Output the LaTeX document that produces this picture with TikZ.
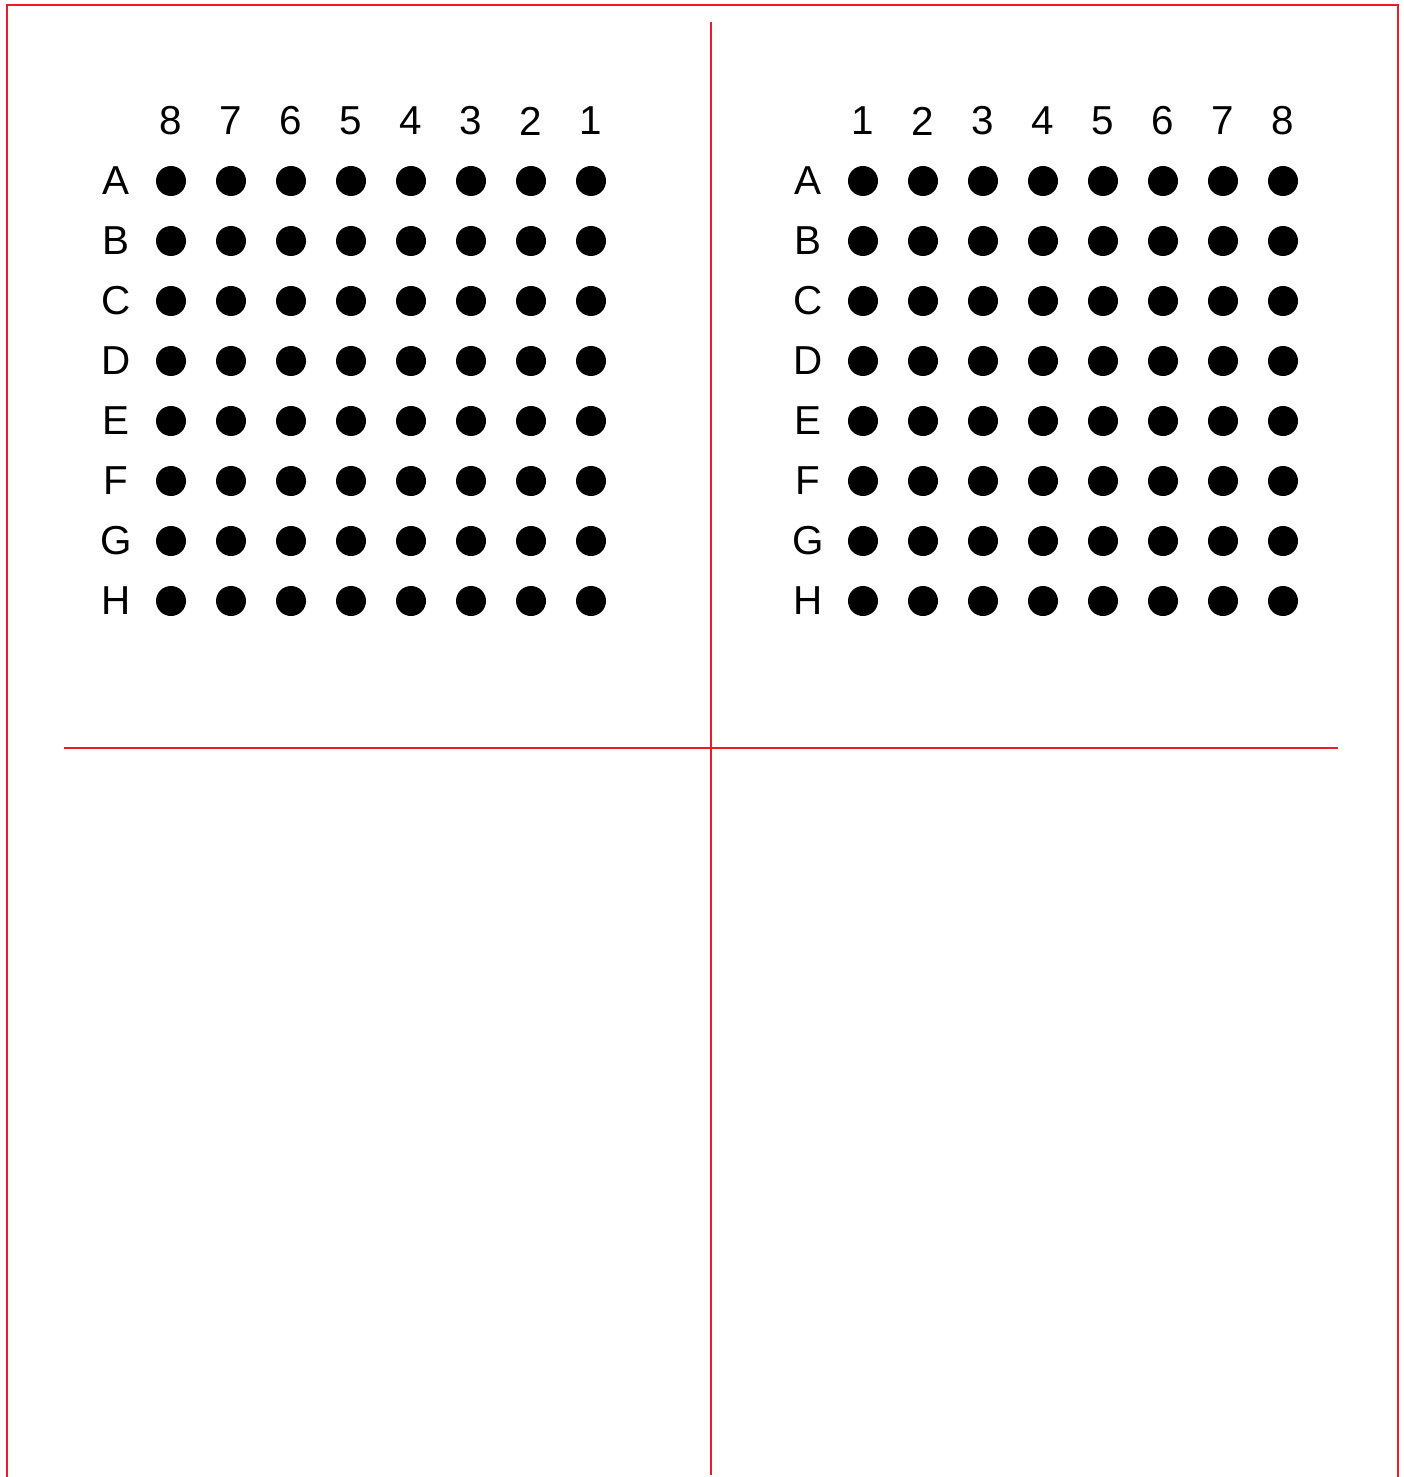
\documentclass[tikz,border=0pt]{standalone}
\usepackage{fontspec}
\setmainfont{Liberation Sans}
\usetikzlibrary{positioning}
\definecolor{panred}{RGB}{237,28,36}

\begin{document}
\begin{tikzpicture}[x=.02cm,y=-.02cm,font=\fontsize{23}{28}\selectfont,
        ball/.style={circle,fill=black,inner sep=0pt,minimum size=.6cm},
        divider/.style={draw=panred,line width=1.4pt}]
        \useasboundingbox (0,0) rectangle (1403,1477);

        % Frame and quadrant dividers.
        \draw[divider] (7,1477)--(7,5)--(1398,5)--(1398,1477);
        \coordinate (vtop) at (711,22);
        \coordinate (vbot) at (711,1475);
        \coordinate (hleft) at (64,748);
        \coordinate (hright) at (1338,748);
        \draw[divider] (vtop)--(vbot);
        \draw[divider] (hleft)--(hright);

        % Left grid: columns numbered 8 down to 1.
        \foreach \c [count=\i from 0] in {8,7,6,5,4,3,2,1} {
          \node (Lcol\c) at (171+60*\i,121) {\c};
          \foreach \r [count=\j from 0] in {A,B,C,D,E,F,G,H}
            \node[ball] (L\r\c) at (171+60*\i,181+60*\j) {};
        }
        \foreach \r [count=\j from 0] in {A,B,C,D,E,F,G,H}
          \node (Lrow\r) at (116,181+60*\j) {\r};

        % Right grid: columns numbered 1 up to 8.
        \foreach \c [count=\i from 0] in {1,2,3,4,5,6,7,8} {
          \node (Rcol\c) at (863+60*\i,121) {\c};
          \foreach \r [count=\j from 0] in {A,B,C,D,E,F,G,H}
            \node[ball] (R\r\c) at (863+60*\i,181+60*\j) {};
        }
        \foreach \r [count=\j from 0] in {A,B,C,D,E,F,G,H}
          \node (Rrow\r) at (808,181+60*\j) {\r};
      \end{tikzpicture}
\end{document}
